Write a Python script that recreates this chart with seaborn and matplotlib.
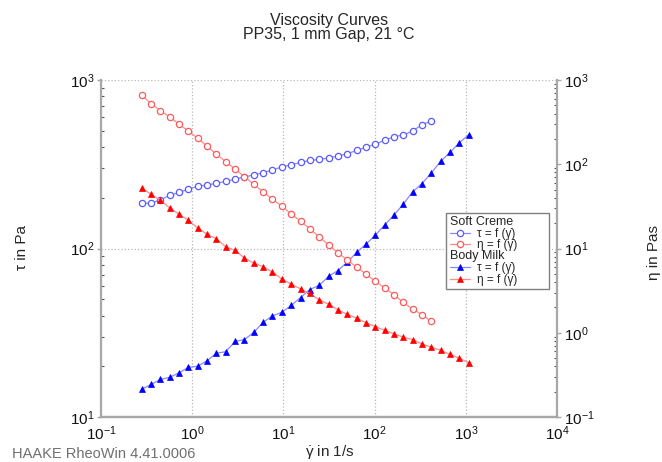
import pandas as pd
import matplotlib
matplotlib.use('Agg')
import matplotlib.pyplot as plt
import matplotlib.text as mtext
from matplotlib.lines import Line2D
from matplotlib.legend_handler import HandlerBase
from matplotlib.ticker import LogLocator, NullFormatter
import seaborn as sns

# shear rate steps (1/s), same ramp for both samples
shear_rate = [0.279, 0.354, 0.448, 0.567, 0.718, 0.908, 1.15, 1.46, 1.84, 2.33,
              2.96, 3.74, 4.74, 6.00, 7.59, 9.61, 12.2, 15.4, 19.5, 24.7,
              31.3, 39.6, 50.1, 63.4, 80.3, 102, 129, 163, 206, 261,
              331, 419, 530, 671, 849, 1076]

# Soft Creme: shear stress (Pa) and viscosity (Pas)
soft_tau = [185, 186, 194, 207, 215, 225, 234, 238, 244, 250,
            258, 266, 273, 282, 292, 305, 314, 324, 333, 338,
            344, 354, 365, 382, 398, 417, 438, 461, 471, 498,
            543, 571]
soft_eta = [663, 525, 432, 364, 299, 247, 203, 163, 132, 107,
            87.2, 71.2, 57.5, 47.0, 38.5, 31.8, 25.7, 21.1, 17.1, 13.7,
            11.0, 8.93, 7.28, 6.03, 4.96, 4.08, 3.40, 2.83, 2.29, 1.91,
            1.64, 1.36]

# Body Milk
milk_tau = [14.6, 15.6, 16.7, 17.2, 18.3, 19.7, 20.0, 21.6, 23.9, 24.4,
            28.1, 28.8, 31.8, 36.5, 39.8, 41.8, 46.0, 51.1, 57.1, 60.5,
            68.4, 74.0, 82.9, 94.7, 106, 120, 138, 158, 183, 217,
            243, 281, 329, 372, 424, 473]
milk_eta = [52.3, 44.1, 37.3, 30.3, 25.5, 21.7, 17.4, 14.8, 13.0, 10.5,
            9.49, 7.70, 6.71, 6.08, 5.24, 4.35, 3.77, 3.32, 2.93, 2.45,
            2.19, 1.87, 1.65, 1.49, 1.32, 1.18, 1.07, 0.972, 0.886, 0.831,
            0.735, 0.671, 0.620, 0.554, 0.499, 0.440]

df_soft = pd.DataFrame({'gamma': shear_rate[:len(soft_tau)], 'tau': soft_tau, 'eta': soft_eta})
df_milk = pd.DataFrame({'gamma': shear_rate, 'tau': milk_tau, 'eta': milk_eta})

sns.set_style('white')
plt.rcParams['font.family'] = ['Liberation Sans', 'DejaVu Sans']
plt.rcParams['mathtext.fontset'] = 'custom'
plt.rcParams['mathtext.rm'] = 'Liberation Sans'
plt.rcParams['mathtext.it'] = 'Liberation Sans'
plt.rcParams['mathtext.bf'] = 'Liberation Sans:bold'

line_blue = '#8888ff'
line_red = '#ff8c8c'
mk_blue = '#0000ff'
mk_red = '#ff0000'
soft_blue = '#5a5aff'
soft_red = '#ff5a5a'
spine_col = '#a8a8a8'

fig = plt.figure(figsize=(6.62, 4.62), dpi=100)
ax = fig.add_axes([101 / 662, 1 - 417 / 462, 456 / 662, 337 / 462])
ax2 = ax.twinx()

for a in (ax, ax2):
    a.set_xscale('log')
    a.set_yscale('log')
ax.set_xlim(0.1, 1e4)
ax.set_ylim(10, 1000)
ax2.set_ylim(0.1, 1000)

circ = dict(marker='o', markersize=4.5, markerfacecolor='white', markeredgewidth=0.9, linewidth=0.9)
tri = dict(marker='^', markersize=5, markeredgewidth=0.5, linewidth=0.9)

sns.lineplot(data=df_soft, x='gamma', y='tau', ax=ax, color=line_blue,
             markeredgecolor=soft_blue, **circ)
sns.lineplot(data=df_milk, x='gamma', y='tau', ax=ax, color=line_blue,
             markeredgecolor=mk_blue, markerfacecolor=mk_blue, **tri)
sns.lineplot(data=df_soft, x='gamma', y='eta', ax=ax2, color=line_red,
             markeredgecolor=soft_red, **circ)
sns.lineplot(data=df_milk, x='gamma', y='eta', ax=ax2, color=line_red,
             markeredgecolor=mk_red, markerfacecolor=mk_red, **tri)

ax.set_xlabel('')
ax.set_ylabel('')
ax2.set_ylabel('')

ax.grid(True, which='major', linestyle=':', color='#b8b8b8', linewidth=0.9)
ax2.grid(False)

for a in (ax, ax2):
    a.yaxis.set_minor_formatter(NullFormatter())
    a.xaxis.set_minor_formatter(NullFormatter())
    a.xaxis.set_major_locator(LogLocator(base=10, numticks=10))
    a.tick_params(which='major', direction='out', length=3, width=1, color=spine_col,
                  labelsize=11, pad=2, labelcolor='#111111')
    a.tick_params(which='minor', direction='in', length=2.5, width=0.8, color='#555555')
    for s in a.spines.values():
        s.set_color(spine_col)
        s.set_linewidth(1.6)
    a.spines['top'].set_visible(False)
ax2.spines['left'].set_visible(False)
ax.spines['right'].set_visible(False)


class Header:
    def __init__(self, text):
        self.text = text


class HeaderHandler(HandlerBase):
    def legend_artist(self, legend, orig_handle, fontsize, handlebox):
        t = mtext.Text(-handlebox.xdescent, -handlebox.ydescent + handlebox.height / 2,
                       orig_handle.text, fontsize=fontsize + 0.5, va='center', ha='left')
        handlebox.add_artist(t)
        return t


h_soft_tau = Line2D([], [], color=line_blue, markeredgecolor=soft_blue, **circ)
h_soft_eta = Line2D([], [], color=line_red, markeredgecolor=soft_red, **circ)
h_milk_tau = Line2D([], [], color=line_blue, markeredgecolor=mk_blue, markerfacecolor=mk_blue, **tri)
h_milk_eta = Line2D([], [], color=line_red, markeredgecolor=mk_red, markerfacecolor=mk_red, **tri)
handles = [Header('Soft Creme'), h_soft_tau, h_soft_eta, Header('Body Milk'), h_milk_tau, h_milk_eta]
labels = ['', 'τ = f (γ\u0307)', 'η = f (γ\u0307)',
          '', 'τ = f (γ\u0307)', 'η = f (γ\u0307)']
leg = ax2.legend(handles, labels, handler_map={Header: HeaderHandler()},
                 loc='upper left', bbox_to_anchor=(0.757, 0.374, 0.226, 0.231),
                 mode='expand', borderaxespad=0,
                 fontsize=8.5, frameon=True, fancybox=False, framealpha=1,
                 edgecolor='#808080', borderpad=0.3, labelspacing=-0.05,
                 handlelength=1.7, handletextpad=0.6)
leg.get_frame().set_linewidth(1.0)

fig.text(329 / 662, 1 - 20 / 462, 'Viscosity Curves', ha='center', va='center', fontsize=11.5)
fig.text(329 / 662, 1 - 35 / 462, 'PP35, 1 mm Gap, 21 °C', ha='center', va='center', fontsize=11.5)
fig.text(22 / 662, 1 - 247 / 462, 'τ in Pa', rotation=90, ha='center', va='center', fontsize=11)
fig.text(654 / 662, 1 - 252 / 462, 'η in Pas', rotation=90, ha='center', va='center', fontsize=11)
fig.text(330 / 662, 1 - 452 / 462, r'$\dot{\gamma}$ in 1/s', ha='center', va='center', fontsize=11)
fig.text(12 / 662, 1 - 454 / 462, 'HAAKE RheoWin 4.41.0006', ha='left', va='center',
         fontsize=10.5, color='#707070')

fig.savefig('out.png', dpi=100)
